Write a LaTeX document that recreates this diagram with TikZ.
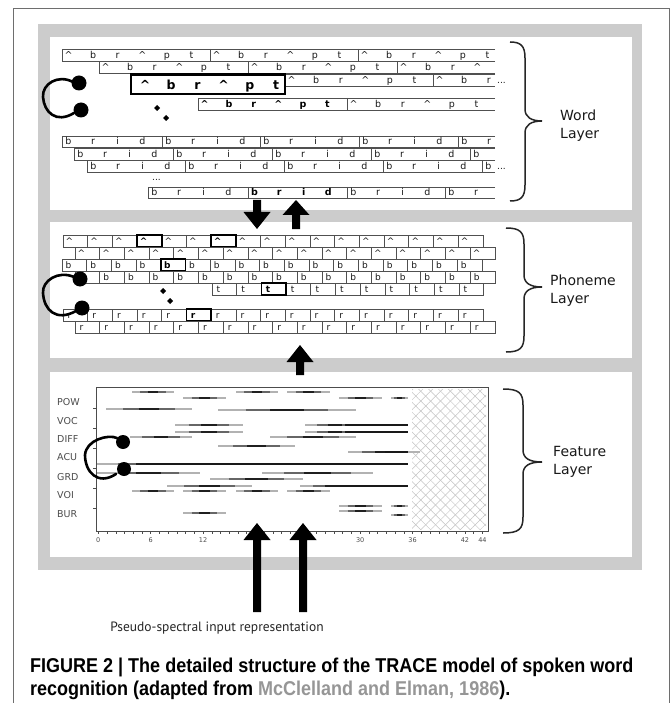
\documentclass[tikz,border=0pt]{standalone}
\usepackage{fontspec}
\setmainfont{DejaVu Sans}
\newfontfamily\capfont[FakeStretch=0.9]{Liberation Sans}
\newfontfamily\inpfont{PT Sans}
\usetikzlibrary{patterns.meta}
\definecolor{panelgray}{RGB}{204,204,204}
\definecolor{framegray}{RGB}{110,110,110}
\definecolor{rowgray}{RGB}{80,80,80}
\definecolor{txtgray}{RGB}{25,25,25}
\definecolor{citegray}{RGB}{150,150,150}
\definecolor{hatchgray}{RGB}{195,195,195}
\newcommand\ca{\textasciicircum}
\tikzset{
  rowline/.style={draw=rowgray,line width=0.85pt},
  wlet/.style={font=\fontsize{9.5}{10}\selectfont,text=txtgray,anchor=base,inner sep=0pt},
  wbold/.style={font=\fontsize{9.5}{10}\selectfont\bfseries,text=black,anchor=base,inner sep=0pt},
  bigbold/.style={font=\fontsize{12.5}{13}\selectfont\bfseries,text=black,anchor=base,inner sep=0pt},
  plet/.style={font=\fontsize{9}{9}\selectfont,text=txtgray,anchor=base,inner sep=0pt},
  pbold/.style={font=\fontsize{9}{9}\selectfont\bfseries,text=black,anchor=base,inner sep=0pt},
  hp/.style={line width=2.6pt,line cap=round},
  bracestyle/.style={line width=1.5pt,draw=black!85},
  layerlab/.style={font=\fontsize{14}{18}\selectfont,align=left,anchor=west,text=black!90,inner sep=0pt},
  featlab/.style={font=\fontsize{9.5}{10}\selectfont,anchor=west,text=black!70,inner sep=0pt},
  ticklab/.style={font=\fontsize{6.5}{7}\selectfont,text=black!70,inner sep=0pt},
  dotsty/.style={font=\fontsize{9}{9}\selectfont,inner sep=0pt,text=txtgray},
}
% word rows
\newcommand\wrow[4]{\draw[rowline] (#4,#1) -- (#3,#1) -- (#3,#2) -- (#4,#2);}
\newcommand\wdivs[3]{\foreach \d in {#3} \draw[rowline] (\d,#1) -- (\d,#2);}
\newcommand\wseg[5]{\foreach \l [count=\k from 0] in {#3} \node[#4,name=#5-\k] at ({#1+6.5+24.6*\k},#2) {\l};}
% phoneme rows
\newcommand\prow[6]{\foreach \k in {1,...,#4} {\draw[rowline,line width=0.65pt] ({#3+24.7*(\k-1)},#1) rectangle ({#3+24.7*\k},#2);
  \node[plet,name=#6-\k] at ({#3+24.7*(\k-1)+6.5},{#2-2.3}) {#5};}}
\newcommand\pbox[5]{\filldraw[fill=white,draw=black,line width=1.6pt] (#3,#1) rectangle ({#3+24.7},#2);
  \node[pbold,name=#5] at ({#3+6.5},{#2-2.3}) {#4};}
% feature traces
\newcommand\fseg[3]{%
  \draw[line width=1.1pt,black!30] (#2,#1) -- (#3,#1);
  \draw[line width=1.5pt,black!60] ({#2+0.2*(#3-#2)},#1) -- ({#3-0.2*(#3-#2)},#1);
  \draw[line width=1.9pt,black!88] ({#2+0.38*(#3-#2)},#1) -- ({#3-0.38*(#3-#2)},#1);}
\newcommand\fthick[3]{\draw[line width=2.2pt,black!90] (#2,#1) -- (#3,#1);}
% block arrows
\newcommand\blkup[4]{\fill[black] ({#1-4},#4) -- ({#1-4},#3) -- ({#1-13.5},#3) -- (#1,#2) -- ({#1+13.5},#3) -- ({#1+4},#3) -- ({#1+4},#4) -- cycle;}
\newcommand\blkdown[4]{\fill[black] ({#1-4},#4) -- ({#1-4},#3) -- ({#1-13.5},#3) -- (#1,#2) -- ({#1+13.5},#3) -- ({#1+4},#3) -- ({#1+4},#4) -- cycle;}
% brace
\newcommand\layerbrace[5]{% xl top mid bot xv
  \draw[bracestyle] (#1,#2) .. controls ({#5-4},#2) and (#5,{#2+4}) .. (#5,{#2+16})
   -- (#5,{#3-12}) .. controls (#5,{#3-4}) and ({#5+6},#3) .. (542,#3)
   .. controls ({#5+6},#3) and (#5,{#3+4}) .. (#5,{#3+12})
   -- (#5,{#4-16}) .. controls (#5,{#4-4}) and ({#5-4},#4) .. (#1,#4);}
\newcommand\diam[2]{\fill[black] (#1,{#2-3}) -- ({#1+3},#2) -- (#1,{#2+3}) -- ({#1-3},#2) -- cycle;}
\begin{document}
\begin{tikzpicture}[x=1pt,y=-1pt]
\useasboundingbox (0,0) rectangle (671,703);
\fill[white] (0,0) rectangle (671,703);
\draw[framegray,line width=0.8pt] (13,706) -- (13,8) -- (669,8) -- (669,706);
% panels
\fill[panelgray] (38,24) rectangle (642,570);
\fill[white] (50,37) rectangle (632,210);
\fill[white] (50,222) rectangle (632,358);
\fill[white] (50,372) rectangle (632,557);

% ---------------- WORD LAYER ----------------
\wrow{49}{61.5}{62}{495}\wdivs{49}{61.5}{210,358}
\wseg{62}{59}{\ca,b,r,\ca,p,t}{wlet}{wa1}
\wseg{210}{59}{\ca,b,r,\ca,p,t}{wlet}{wa2}
\wseg{358}{59}{\ca,b,r,\ca,p,t}{wlet}{wa3}

\wrow{61.5}{73.5}{99}{495}\wdivs{61.5}{73.5}{248,397}
\wseg{99}{71}{\ca,b,r,\ca,p,t}{wlet}{wb1}
\wseg{248}{71}{\ca,b,r,\ca,p,t}{wlet}{wb2}
\wseg{397}{71}{\ca,b,r,\ca}{wlet}{wb3}

\wrow{74.5}{86.5}{285}{495}\wdivs{74.5}{86.5}{433}
\wseg{285}{84}{\ca,b,r,\ca,p,t}{wlet}{wc2}
\wseg{433}{84}{\ca,b,r}{wlet}{wc3}
\node[dotsty,name=wcdots,anchor=base west] at (497,84) {...};
\draw[line width=2.4pt] (131,74.5) rectangle (285,94);
\foreach \l [count=\k from 0] in {\ca,b,r,\ca,p,t} \node[bigbold,name=wbox-\k] at ({145+26.2*\k},90) {\l};

\wrow{98}{110.5}{198}{495}\wdivs{98}{110.5}{347}
\wseg{198}{108}{\ca,b,r,\ca,p,t}{wbold}{wd1}
\wseg{347}{108}{\ca,b,r,\ca,p,t}{wlet}{wd2}
\diam{157}{108}\diam{166}{118}

\wrow{136}{147.5}{62}{495}\wdivs{136}{147.5}{162,260,359,458}
\foreach \s [count=\j] in {62,162,260,359} {\wseg{\s}{145}{b,r,i,d}{wlet}{we\j}}
\wseg{458}{145}{b,r}{wlet}{we5}

\wrow{148}{160}{74}{495}\wdivs{148}{160}{173,272,371,470}
\foreach \s [count=\j] in {74,173,272,371} {\wseg{\s}{157.5}{b,r,i,d}{wlet}{wf\j}}
\wseg{470}{157.5}{b}{wlet}{wf5}

\wrow{160.5}{172.5}{87}{495}\wdivs{160.5}{172.5}{185,284,383,482}
\foreach \s [count=\j] in {87,185,284,383} {\wseg{\s}{170}{b,r,i,d}{wlet}{wg\j}}
\wseg{482}{170}{b}{wlet}{wg5}
\node[dotsty,name=wgdots,anchor=base west] at (497,170) {...};
\node[dotsty,name=wvdots,anchor=base west] at (152,181) {...};

\wrow{187}{198.5}{148}{495}\wdivs{187}{198.5}{248,347,445}
\wseg{148}{196}{b,r,i,d}{wlet}{wh1}
\wseg{248}{196}{b,r,i,d}{wbold}{wh2}
\wseg{347}{196}{b,r,i,d}{wlet}{wh3}
\wseg{445}{196}{b,r}{wlet}{wh4}

% word headphone
\draw[hp] (73,82) .. controls (58,74) and (42,84) .. (43,97) .. controls (44,112) and (56,124) .. (74,113);
\fill (79,83) circle (7.5);
\fill (81,110) circle (7.5);

\layerbrace{510}{42}{121}{201}{525}
\node[layerlab,name=wordlab] at (560,126) {Word\\Layer};

% ---------------- PHONEME LAYER ----------------
\prow{235}{247}{63}{17}{\ca}{pa}
\pbox{235}{247}{137.1}{\ca}{pab1}
\pbox{235}{247}{211.2}{\ca}{pab2}
\prow{247}{259}{75}{17}{\ca}{pb}
\prow{259}{271}{62}{17}{b}{pc}
\pbox{259}{271}{160.8}{b}{pcb}
\prow{271}{283}{75}{17}{b}{pd}
\prow{283}{295}{212}{11}{t}{pe}
\pbox{283}{295}{261.4}{t}{peb}
\prow{309}{321}{63}{17}{r}{pf}
\pbox{309}{321}{186.5}{r}{pfb}
\prow{321}{333}{75}{17}{r}{pg}
\diam{163}{291}\diam{170}{301}

\draw[hp] (74,277) .. controls (58,270) and (42,281) .. (43,293) .. controls (44,310) and (56,322) .. (76,311);
\fill (80,279) circle (7.5);
\fill (82,308) circle (7.5);

\layerbrace{506}{228}{287}{352}{524}
\node[layerlab,name=phonlab] at (550,291) {Phoneme\\Layer};

% ---------------- FEATURE LAYER ----------------
\fill[pattern={Lines[angle=45,distance=7pt,line width=0.5pt]},pattern color=hatchgray] (412,389) rectangle (486,529);
\fill[pattern={Lines[angle=-45,distance=7pt,line width=0.5pt]},pattern color=hatchgray] (412,389) rectangle (486,529);
\draw[black!70,line width=0.7pt] (96,387) rectangle (488,531);
\foreach \t in {0,...,44} \draw[black!70,line width=0.5pt] ({98.3+8.73*\t},531) -- ({98.3+8.73*\t},533.5);
\foreach \yy in {408,428,448,468,488,508} \draw[black!70,line width=0.5pt] (93,\yy) -- (96,\yy);
\foreach \t in {0,6,12,30,36,42,44} \node[ticklab,name=tick\t] at ({98.3+8.73*\t},540) {\t};
\foreach \lab/\yy in {POW/402,VOC/421,DIFF/439,ACU/457,GRD/477,VOI/495,BUR/514}
  \node[featlab,name=f\lab] at (57,\yy) {\lab};
% traces
\fseg{392}{132}{174}\fseg{392}{236}{278}\fseg{392}{287}{330}
\fseg{398}{183}{226}\fseg{398}{339}{382}\fseg{398}{391}{408}
\fseg{409}{106}{192}\fseg{410}{218}{356}
\fseg{425}{175}{243}\fseg{425}{305}{365}\fthick{425}{345}{408}
\fseg{432}{175}{243}\fseg{432}{305}{365}\fthick{432}{345}{408}
\fseg{437}{130}{192}\fseg{437}{270}{356}
\fseg{446}{218}{295}\fseg{452}{348}{420}\fthick{452}{385}{408}
\fseg{464}{97}{200}\fthick{464}{140}{408}
\fseg{473}{97}{200}\fseg{473}{262}{373}
\fseg{479}{210}{303}
\fseg{486}{167}{252}\fseg{486}{300}{365}\fthick{486}{340}{408}
\fseg{491}{132}{174}\fseg{491}{183}{226}\fseg{491}{236}{278}\fseg{491}{287}{330}
\fseg{506}{339}{382}\fseg{506}{391}{408}
\fseg{511}{339}{382}\fseg{515}{391}{408}
\fseg{513}{183}{226}

\draw[hp] (117,438) .. controls (108,434) and (86,440) .. (85,455) .. controls (85,472) and (98,486) .. (116,474);
\fill (123,442) circle (7);
\fill (124,469) circle (7);

\layerbrace{503}{389}{462}{533}{523}
\node[layerlab,name=featlab] at (553,462) {Feature\\Layer};

% ---------------- ARROWS ----------------
\blkdown{257}{229}{212}{200}
\blkup{296}{200}{215}{229}
\blkup{300}{345}{362}{375}
\blkup{257}{523}{540}{612}
\blkup{303}{523}{540}{612}

\node[font=\inpfont\fontsize{13.5}{15}\selectfont,text=black!85,name=inputlab] at (217,628) {Pseudo-spectral input representation};

\node[anchor=west,inner sep=0pt,font=\capfont\bfseries\fontsize{20}{23}\selectfont,name=cap1] at (30,667) {FIGURE 2 | The detailed structure of the TRACE model of spoken word};
\node[anchor=west,inner sep=0pt,font=\capfont\bfseries\fontsize{20}{23}\selectfont,name=cap2] at (30,690) {recognition (adapted from \textcolor{citegray}{McClelland and Elman, 1986}).};
\end{tikzpicture}
\end{document}
